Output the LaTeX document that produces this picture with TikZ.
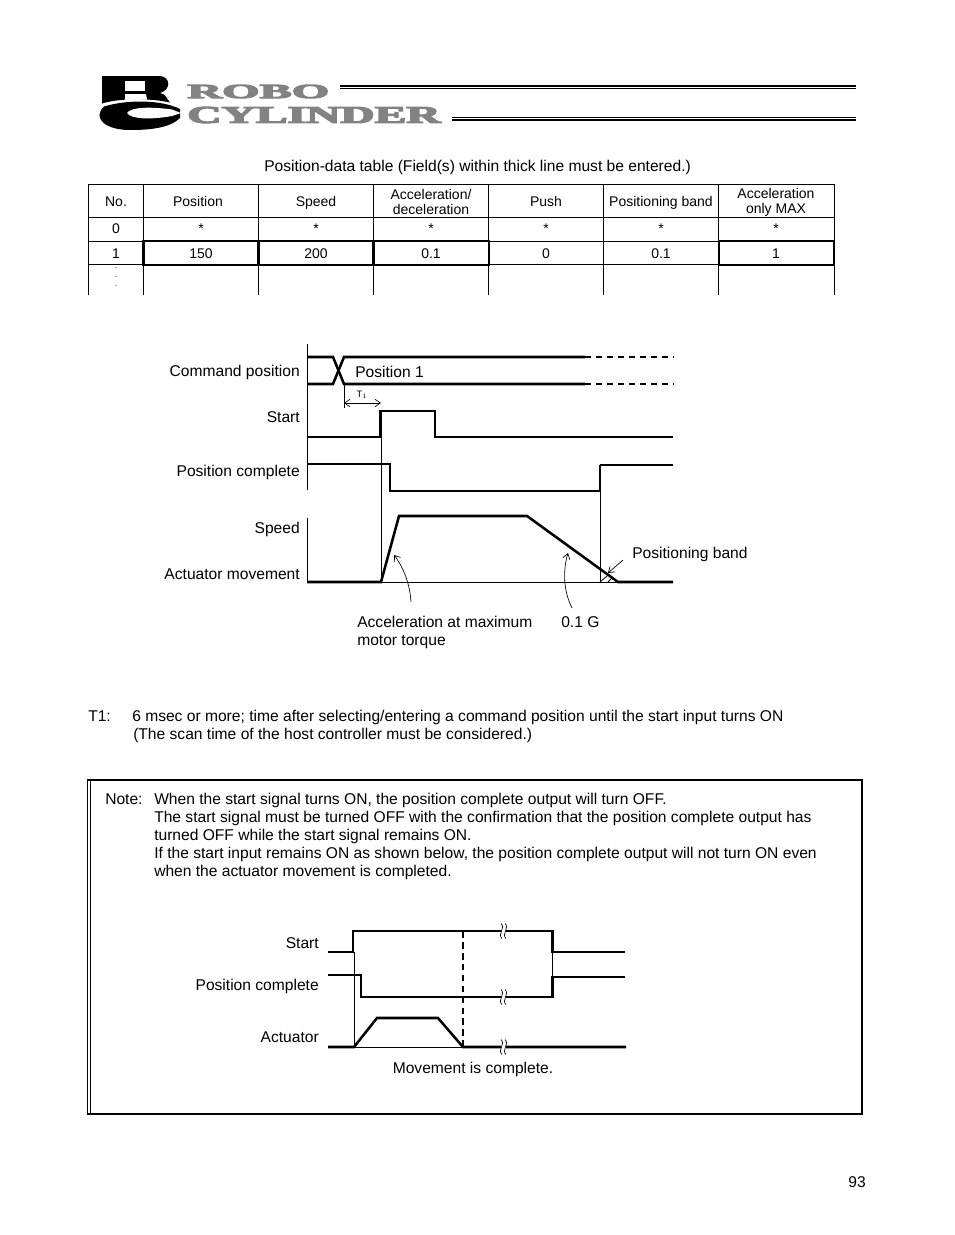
\documentclass[tikz,border=0pt]{standalone}
\usepackage{fontspec}
\usetikzlibrary{arrows.meta}
\setmainfont{Liberation Sans}
\newfontfamily\logofont[BoldFeatures={FakeBold=4.5}]{Liberation Serif}
\definecolor{LogoGray}{RGB}{130, 130, 130}

\begin{document}
\begin{tikzpicture}[
    x=0.75pt, y=-0.75pt,
    >={Straight Barb[length=4pt, width=5.5pt]},
    txt/.style={inner sep=0pt, anchor=west, text height=10pt, text depth=2.5pt, font=\fontsize{11.7}{14}\selectfont},
    lbl/.style={inner sep=0pt, anchor=east, text height=10pt, text depth=2.5pt, font=\fontsize{11.7}{14}\selectfont},
    cell/.style={inner sep=0pt, text height=9.5pt, text depth=2pt, font=\fontsize{10.5}{11.25}\selectfont},
    twocell/.style={inner sep=0pt, align=center, yshift=-0.7pt, font=\fontsize{10.5}{11.25}\selectfont},
    logotxt/.style={inner sep=0pt, anchor=west, text=LogoGray},
    grid/.style={line width=0.75pt},
    heavy/.style={line width=1.8pt},
    wave/.style={line width=1.9pt, miter limit=10},
    thick wave/.style={line width=2.1pt, miter limit=10},
    dash wave/.style={line width=1.3pt, dash pattern=on 4.6pt off 3.65pt},
    thin line/.style={line width=0.6pt},
    lead/.style={<->, line width=0.5pt},
    pointer/.style={->, line width=0.5pt},
    breakmark/.pic={
        \fill[white] (-2,-5) rectangle (3,5);
        \draw[line width=0.5pt] (-2,-7.5) .. controls (3,-3) and (-6,3) .. (-1,7.5);
        \draw[line width=0.5pt] (2,-7.5) .. controls (7,-3) and (-2,3) .. (3,7.5);
    }
]
    \useasboundingbox (0,0) rectangle (954,1235);
    \fill[white] (0,0) rectangle (954,1235);

    % logo
    \fill (102,76) -- (160,76) .. controls (171,77) and (171,90) .. (160,93)
        .. controls (166,94) and (167,99) .. (170,102.5)
        .. controls (150,98) and (120,98) .. (102,103.5) -- cycle;
    \fill[white] (125,81) rectangle (145,90.5);
    \fill[white] (125,94) -- (146,94) -- (147,99.5) -- (125,100.5) -- cycle;
    \fill (104,106.5) .. controls (125,100) and (160,99) .. (180,109)
        -- (180,118) .. controls (170,128) and (150,130) .. (130,130)
        .. controls (105,130) and (92,118) .. (104,106.5) -- cycle;
    \fill[white] (127,113) .. controls (131,107) and (150,106.5) .. (172,109.5) -- (181,113)
        -- (172,116) .. controls (150,120) and (131,119) .. (127,113) -- cycle;
    \node[logotxt] (robo) at (187,91.5) {\resizebox{106.5pt}{10pt}{\logofont\bfseries ROBO}};
    \node[logotxt] (cyl) at (187,115) {\resizebox{190pt}{12pt}{\logofont\bfseries CYLINDER}};
    \draw[line width=1.9pt] (340,86) -- (856,86);
    \draw[line width=0.75pt] (340,88.8) -- (856,88.8);
    \draw[line width=0.75pt] (452,117.3) -- (856,117.3);
    \draw[line width=1.9pt] (452,120.2) -- (856,120.2);

    % table
    \node[txt] (title) at (264,166) {Position-data table (Field(s) within thick line must be entered.)};
    \draw[grid] (88,295) -- (88,184.5) -- (834.5,184.5) -- (834.5,295);
    \draw[grid] (143,184.5) -- (143,295);
    \draw[grid] (258.5,184.5) -- (258.5,295);
    \draw[grid] (373.5,184.5) -- (373.5,295);
    \draw[grid] (488.5,184.5) -- (488.5,295);
    \draw[grid] (603.5,184.5) -- (603.5,295);
    \draw[grid] (718.5,184.5) -- (718.5,295);
    \draw[grid] (88,217) -- (834.5,217);
    \draw[grid] (88,241) -- (834.5,241);
    \draw[grid] (88,264.7) -- (834.5,264.7);
    \draw[heavy] (143,241) -- (489,241) (143,264.7) -- (489,264.7) (718.5,241) -- (834.5,241) (718.5,264.7) -- (834.5,264.7);
    \draw[heavy] (143.5,240) -- (143.5,265.7) (258.5,240) -- (258.5,265.7) (373.5,240) -- (373.5,265.7) (488.8,240) -- (488.8,265.7) (718.8,240) -- (718.8,265.7) (834,240) -- (834,265.7);

    \node[cell] (hno) at (116,201) {No.};
    \node[cell] (hpos) at (198,201) {Position};
    \node[cell] (hspd) at (316,201) {Speed};
    \node[twocell] (hacc) at (431,201) {Acceleration/\\deceleration};
    \node[cell] (hpush) at (546,201) {Push};
    \node[cell] (hband) at (661,201) {Positioning band};
    \node[twocell] (hmax) at (776,201) {Acceleration\\only MAX};
    \node[cell] (r0no) at (116,228) {0};
    \node[cell] (r0pos) at (201,228) {*};
    \node[cell] (r0spd) at (316,228) {*};
    \node[cell] (r0acc) at (431,228) {*};
    \node[cell] (r0push) at (546,228) {*};
    \node[cell] (r0band) at (661,228) {*};
    \node[cell] (r0max) at (776,228) {*};
    \node[cell] (r1no) at (116,253) {1};
    \node[cell] (r1pos) at (201,253) {150};
    \node[cell] (r1spd) at (316,253) {200};
    \node[cell] (r1acc) at (431,253) {0.1};
    \node[cell] (r1push) at (546,253) {0};
    \node[cell] (r1band) at (661,253) {0.1};
    \node[cell] (r1max) at (776,253) {1};
    \node[twocell, font=\fontsize{6}{7}\selectfont] (dots) at (116,276) {.\\.\\.};

    % timing chart
    \node[lbl] (lcmd) at (300,371) {Command position};
    \node[lbl] (lstart) at (300,417) {Start};
    \node[lbl] (lpc) at (300,471) {Position complete};
    \node[lbl] (lspd) at (300,528) {Speed};
    \node[lbl] (lact) at (300,574) {Actuator movement};
    \node[txt] (lpos1) at (355,372) {Position 1};
    \node[inner sep=0pt, font=\fontsize{7}{8}\selectfont] (lt1) at (362,395) {T$_1$};
    \node[txt] (lband) at (632,553) {Positioning band};
    \node[txt] (lacc) at (357,622) {Acceleration at maximum};
    \node[txt] (lacc2) at (357,640) {motor torque};
    \node[txt] (lg) at (561,622) {0.1 G};

    \draw[thin line] (307,344) -- (307,490);
    \draw[thin line] (307,518) -- (307,582);
    \draw[wave] (307,357) -- (333,357) -- (344,384) -- (585,384);
    \draw[wave] (307,384) -- (333,384) -- (344,357) -- (585,357);
    \draw[dash wave] (585,357) -- (674,357);
    \draw[dash wave] (585,384) -- (674,384);
    \draw[thin line] (344,384) -- (344,408);
    \coordinate (t1a) at (344,403);
    \coordinate (t1b) at (381,403);
    \draw[lead] (t1a) -- (t1b);
    \draw[wave] (307,437) -- (380.5,437) -- (380.5,411) -- (435,411) -- (435,437) -- (673,437);
    \draw[thin line] (381,411) -- (381,582);
    \draw[thick wave] (307,464) -- (390,464) -- (390,491) -- (600,491) -- (600,465);
    \draw[wave] (600,465) -- (673,465);
    \draw[thin line] (600,465) -- (600,582);
    \draw[thin line] (381,582) -- (618,582);
    \draw[wave] (307,582) -- (381,582) -- (399,516) -- (527,516) -- (618,582) -- (673,582);
    \draw[thin line] (600,582) -- (607,576) (608,582) -- (613,577);

    \coordinate (accfrom) at (411,602);
    \coordinate (accto) at (394,555);
    \coordinate (gfrom) at (572,608);
    \coordinate (gto) at (568,553);
    \coordinate (bandfrom) at (623,560);
    \coordinate (bandto) at (608,573);
    \draw[pointer] (accfrom) .. controls (410,585) and (404,568) .. (accto);
    \draw[pointer] (gfrom) .. controls (563,590) and (563,570) .. (gto);
    \draw[pointer] (bandfrom) -- (bandto);

    % T1 text
    \node[txt] (t1) at (88,716) {T1:};
    \node[txt] (t1a1) at (132,716) {6 msec or more; time after selecting/entering a command position until the start input turns ON};
    \node[txt] (t1a2) at (133,734) {(The scan time of the host controller must be considered.)};

    % note box
    \draw[line width=1.1pt] (87.5,780) rectangle (862,1114);
    \draw[thin line] (90,780) -- (90,1114);
    \node[txt] (note) at (105,799) {Note:};
    \node[txt] (n1) at (154,799) {When the start signal turns ON, the position complete output will turn OFF.};
    \node[txt] (n2) at (154,817) {The start signal must be turned OFF with the confirmation that the position complete output has};
    \node[txt] (n3) at (154,835) {turned OFF while the start signal remains ON.};
    \node[txt] (n4) at (154,853) {If the start input remains ON as shown below, the position complete output will not turn ON even};
    \node[txt] (n5) at (154,871) {when the actuator movement is completed.};

    \node[lbl] (nstart) at (319,943) {Start};
    \node[lbl] (npc) at (319,985) {Position complete};
    \node[lbl] (nact) at (319,1037) {Actuator};
    \node[txt, anchor=center] (ndone) at (473,1068) {Movement is complete.};

    \draw[thin line] (354,952) -- (354,1047);
    \draw[thin line] (552,952) -- (552,977);
    \draw[thin line] (354,1047) -- (463,1047);
    \draw[wave] (328,952) -- (353,952) -- (353,931) -- (552.5,931) -- (552.5,952) -- (625,952);
    \draw[wave] (328,975) -- (361,975) -- (361,997) -- (552.5,997) -- (552.5,977) -- (625,977);
    \draw[wave] (328,1047) -- (354,1047) -- (377,1018) -- (438,1018) -- (463,1047) -- (626,1047);
    \draw[line width=1.4pt, dash pattern=on 5pt off 3.2pt] (463,931) -- (463,1047);
    \pic at (503,931) {breakmark};
    \pic at (503,997) {breakmark};
    \pic at (503,1047) {breakmark};

    \node[lbl] (page) at (866,1182) {93};
\end{tikzpicture}
\end{document}
